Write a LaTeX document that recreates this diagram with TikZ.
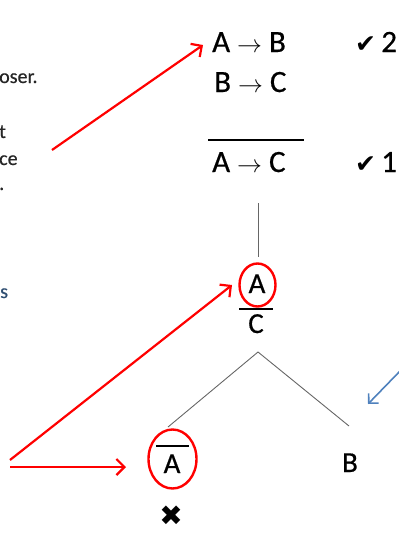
\documentclass[tikz,border=0pt]{standalone}
\usepackage{fontspec}
\setmainfont{Carlito}[FakeBold=0.6]
\newfontfamily\bodyfont{Carlito}[FakeBold=0.5]
\newfontfamily\symfont{DejaVu Sans}
\usetikzlibrary{arrows.meta}
\definecolor{slideblue}{RGB}{79,129,189}
\begin{document}
\begin{tikzpicture}[x=1pt,y=-1pt,
  big/.style={inner sep=0pt, anchor=base west, font=\bodyfont\fontsize{31}{37}\selectfont},
  treetext/.style={inner sep=0pt, anchor=base, font=\bodyfont\fontsize{29}{35}\selectfont},
  side/.style={inner sep=0pt, anchor=base west, text=black!85, font=\bodyfont\fontsize{20}{24}\selectfont},
  treeline/.style={draw=black!60, line width=0.9pt},
  rule/.style={draw=black, line width=2pt},
  redarrow/.style={draw=red, line width=2.2pt, -{Straight Barb[length=8pt,width=16pt,line width=2.2pt]}},
  bluearrow/.style={draw=slideblue, line width=1.6pt, -{Straight Barb[length=7pt,width=14pt,line width=1.6pt]}},
  ring/.style={draw=red, line width=2.4pt}]
\useasboundingbox (0,0) rectangle (399,533);
\clip (0,0) rectangle (399,533);
% cropped side text
\node[side] (t1) at (-1,83) {oser.};
\node[side] (t2) at (-1,138) {t};
\node[side] (t3) at (-1,165) {ce};
\node[side] (t4) at (-1,190) {.};
\node[side, text=slideblue!60!black] (t5) at (0,298) {s};
% premises
\node[big] (ab) at (212,52) {A $\rightarrow$ B};
\node[big] (bc) at (214,92) {B $\rightarrow$ C};
\coordinate (rl) at (208,140);
\coordinate (rr) at (304,140);
\draw[rule] (rl) -- (rr);
\node[big] (ac) at (212,172) {A $\rightarrow$ C};
\node[inner sep=0pt, anchor=base west, font=\bodyfont\fontsize{31}{37}\selectfont] (chk2) at (355,52) {{\symfont\fontsize{25}{26}\selectfont ✔}\,2};
\node[inner sep=0pt, anchor=base west, font=\bodyfont\fontsize{31}{37}\selectfont] (chk1) at (355,172) {{\symfont\fontsize{25}{26}\selectfont ✔}\,1};
% trunk
\coordinate (vt) at (258,203);
\coordinate (vb) at (258,257);
\draw[treeline] (vt) -- (vb);
% A / C
\node[treetext] (topA) at (257,293) {A};
\coordinate (ringA) at (257.5,285);
\draw[ring] (ringA) ellipse [x radius=18, y radius=21.5];
\coordinate (bl) at (239,309);
\coordinate (br) at (273,309);
\draw[rule] (bl) -- (br);
\node[treetext] (topC) at (256,333) {C};
% branches
\coordinate (apex) at (258,352);
\coordinate (lend) at (168,427);
\coordinate (rend) at (349,426);
\draw[treeline] (lend) -- (apex) -- (rend);
% not A
\node[treetext] (nA) at (172,473) {A};
\coordinate (ol) at (156,446);
\coordinate (or) at (189,446);
\draw[rule] (ol) -- (or);
\coordinate (ringN) at (172.5,459);
\draw[ring] (ringN) ellipse [x radius=24, y radius=29.5];
\node[treetext] (nB) at (350,472) {B};
\node[inner sep=0pt, anchor=center, font=\symfont\fontsize{28}{30}\selectfont] (cross) at (171,516) {✖};
% arrows
\coordinate (s1) at (52,150);
\coordinate (e1) at (203,45);
\draw[redarrow] (s1) -- (e1);
\coordinate (s2) at (10,460);
\coordinate (e2) at (232,285);
\draw[redarrow] (s2) -- (e2);
\coordinate (s3) at (10,467);
\coordinate (e3) at (126,467);
\draw[redarrow] (s3) -- (e3);
\coordinate (s4) at (402,369);
\coordinate (e4) at (368,404);
\draw[bluearrow] (s4) -- (e4);
\end{tikzpicture}
\end{document}
